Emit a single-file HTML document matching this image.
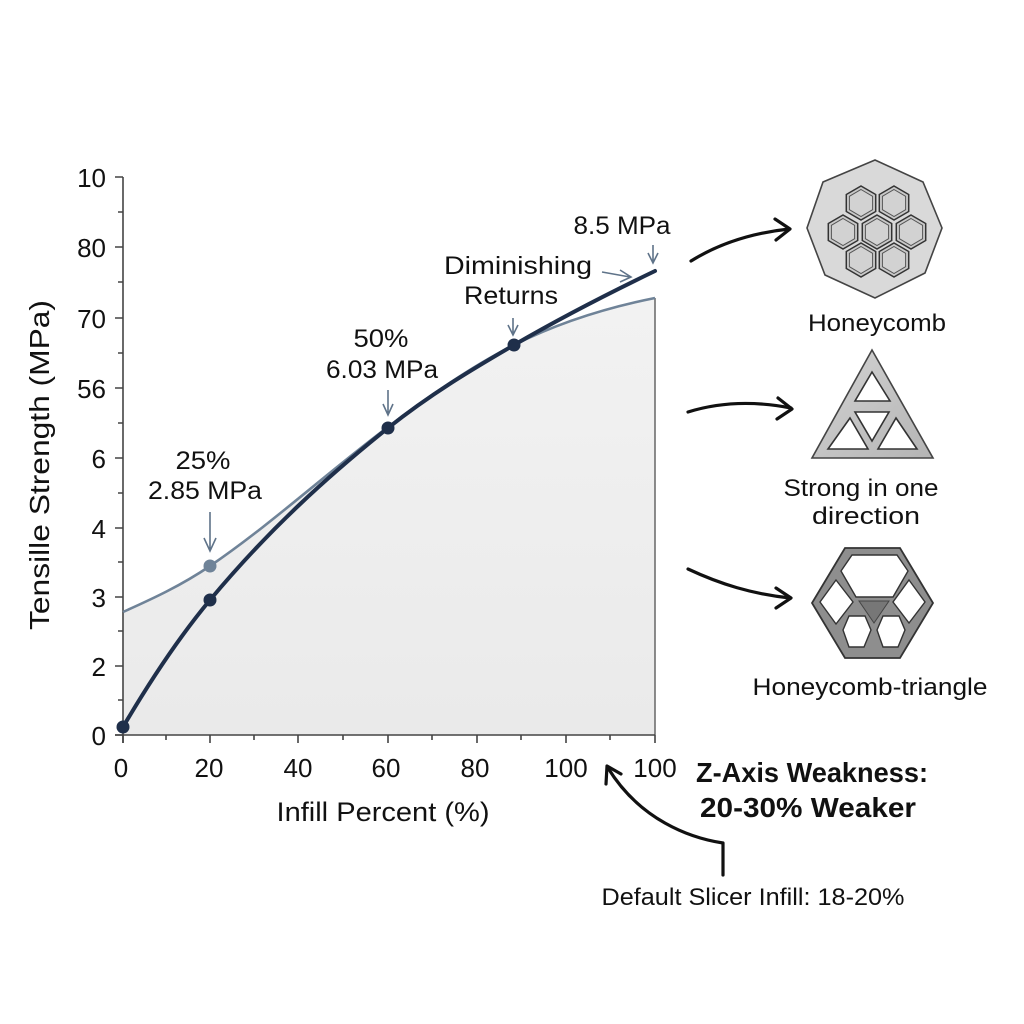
<!DOCTYPE html>
<html><head><meta charset="utf-8"><style>
html,body{margin:0;padding:0;background:#fff;}
svg{display:block;}
text{font-family:"Liberation Sans",sans-serif;fill:#111;}
</style></head><body>
<svg width="1024" height="1024" viewBox="0 0 1024 1024" xmlns="http://www.w3.org/2000/svg">
<defs>
<linearGradient id="fg" x1="0" y1="0" x2="0" y2="1">
<stop offset="0" stop-color="#f2f2f2"/><stop offset="1" stop-color="#eaeaea"/>
</linearGradient>
<linearGradient id="tg" x1="0" y1="0" x2="1" y2="1">
<stop offset="0" stop-color="#d4d4d4"/><stop offset="1" stop-color="#b4b4b4"/>
</linearGradient>
</defs>
<rect width="1024" height="1024" fill="#fff"/>

<!-- fill under light curve -->
<path d="M123,612 C152,599 181,585.7 210,566 C269.3,525.7 328.7,471.5 388,427 C430,395.5 472,366 514,345 C561,321.5 608,307.4 655,298 L655,735 L123,735 Z" fill="url(#fg)"/>
<line x1="655" y1="298" x2="655" y2="735" stroke="#666" stroke-width="1.5"/>

<!-- axes -->
<g stroke="#444" stroke-width="1.6" fill="none">
<line x1="123" y1="177" x2="123" y2="743"/>
<line x1="115" y1="735" x2="655" y2="735"/>
<path d="M115,177H123M115,247H123M115,318H123M115,388H123M115,458H123M115,528H123M115,597H123M115,666H123M115,735H123"/>
<path d="M118,212H123M118,282H123M118,353H123M118,423H123M118,493H123M118,562H123M118,631H123M118,700H123"/>
<path d="M123,735V743M210,735V743M298,735V743M388,735V743M477,735V743M566,735V743M655,735V743"/>
<path d="M166,735V740M254,735V740M343,735V740M432,735V740M521,735V740M610,735V740"/>
</g>

<g font-size="26" text-anchor="end">
<text x="106" y="187">10</text>
<text x="106" y="257">80</text>
<text x="106" y="328">70</text>
<text x="106" y="398">56</text>
<text x="106" y="468">6</text>
<text x="106" y="538">4</text>
<text x="106" y="607">3</text>
<text x="106" y="676">2</text>
<text x="106" y="745">0</text>
</g>
<g font-size="26" text-anchor="middle">
<text x="121" y="777">0</text>
<text x="209" y="777">20</text>
<text x="298" y="777">40</text>
<text x="386" y="777">60</text>
<text x="475" y="777">80</text>
<text x="566" y="777">100</text>
<text x="655" y="777">100</text>
</g>

<text x="383" y="821" font-size="27" text-anchor="middle" textLength="213" lengthAdjust="spacingAndGlyphs">Infill Percent (%)</text>
<text transform="translate(49,465) rotate(-90)" x="0" y="0" font-size="28" text-anchor="middle" textLength="330" lengthAdjust="spacingAndGlyphs">Tensille Strength (MPa)</text>

<path d="M123,612 C152,599 181,585.7 210,566 C269.3,525.7 328.7,471.5 388,427 C430,395.5 472,366 514,345 C561,321.5 608,307.4 655,298" fill="none" stroke="#6f8398" stroke-width="2.6"/>
<path d="M123,727 C152,677.7 181,634.8 210,600 C269.3,528.8 328.7,475.5 388,428 C430,394.4 472,369.4 514,345 C561,317.7 608,293.6 655,271" fill="none" stroke="#1f2f4a" stroke-width="4" stroke-linecap="round"/>

<circle cx="210" cy="566" r="6.5" fill="#6f8398"/>
<g fill="#1f2f4a">
<circle cx="123" cy="727" r="6.5"/>
<circle cx="210" cy="600" r="6.5"/>
<circle cx="388" cy="428" r="6.5"/>
<circle cx="514" cy="345" r="6.5"/>
</g>

<g stroke="#5f7389" stroke-width="1.6" fill="none">
<path d="M210,512V550M204,538L210,551L216,538"/>
<path d="M388,390V414M383,404L388,415L393,404"/>
<path d="M513,318V334M508,325L513,335L518,325"/>
<path d="M653,245V262M648,253L653,263L658,253"/>
<path d="M602,272L630,277M620,270L631,277L620,282"/>
</g>

<g font-size="25" text-anchor="middle">
<text x="203" y="469" textLength="55" lengthAdjust="spacingAndGlyphs">25%</text>
<text x="205" y="499" textLength="114" lengthAdjust="spacingAndGlyphs">2.85 MPa</text>
<text x="381" y="347" textLength="55" lengthAdjust="spacingAndGlyphs">50%</text>
<text x="382" y="378" textLength="112" lengthAdjust="spacingAndGlyphs">6.03 MPa</text>
<text x="518" y="274" textLength="148" lengthAdjust="spacingAndGlyphs">Diminishing</text>
<text x="511" y="304" textLength="94" lengthAdjust="spacingAndGlyphs">Returns</text>
<text x="622" y="234" textLength="97" lengthAdjust="spacingAndGlyphs">8.5 MPa</text>
</g>

<g stroke="#111" stroke-width="3.2" fill="none" stroke-linecap="round" stroke-linejoin="round">
<path d="M691,261 C720,243 752,233 789,229"/>
<path d="M775,219L790,229L776,240"/>
<path d="M688,412 C720,402 755,401 791,408"/>
<path d="M778,398L792,409L777,419"/>
<path d="M688,569 C720,584 752,594 790,598"/>
<path d="M776,588L791,598L776,608"/>
<path d="M723,875V843 C690,838 640,820 608,768"/>
<path d="M606,784L607,766L621,774"/>
</g>

<!-- Honeycomb icon -->
<polygon points="875,160 923,182 942,228 925,273 875,298 825,275 807,228 823,182" fill="#d9d9d9" stroke="#444" stroke-width="1.6"/>
<g stroke="#333" stroke-width="1.5" fill="#c9c9c9">
<polygon points="861,186 875.7,194.5 875.7,211.5 861,220 846.3,211.5 846.3,194.5"/>
<polygon points="894,186 908.7,194.5 908.7,211.5 894,220 879.3,211.5 879.3,194.5"/>
<polygon points="843,215 857.7,223.5 857.7,240.5 843,249 828.3,240.5 828.3,223.5"/>
<polygon points="877,215 891.7,223.5 891.7,240.5 877,249 862.3,240.5 862.3,223.5"/>
<polygon points="911,215 925.7,223.5 925.7,240.5 911,249 896.3,240.5 896.3,223.5"/>
<polygon points="861,243 875.7,251.5 875.7,268.5 861,277 846.3,268.5 846.3,251.5"/>
<polygon points="894,243 908.7,251.5 908.7,268.5 894,277 879.3,268.5 879.3,251.5"/>
</g>
<g stroke="#555" stroke-width="1" fill="#d2d2d2">
<polygon points="861,189.5 872.6,196.3 872.6,209.7 861,216.5 849.4,209.7 849.4,196.3"/>
<polygon points="894,189.5 905.6,196.3 905.6,209.7 894,216.5 882.4,209.7 882.4,196.3"/>
<polygon points="843,218.5 854.6,225.3 854.6,238.7 843,245.5 831.4,238.7 831.4,225.3"/>
<polygon points="877,218.5 888.6,225.3 888.6,238.7 877,245.5 865.4,238.7 865.4,225.3"/>
<polygon points="911,218.5 922.6,225.3 922.6,238.7 911,245.5 899.4,238.7 899.4,225.3"/>
<polygon points="861,246.5 872.6,253.3 872.6,266.7 861,273.5 849.4,266.7 849.4,253.3"/>
<polygon points="894,246.5 905.6,253.3 905.6,266.7 894,273.5 882.4,266.7 882.4,253.3"/>
</g>
<text x="877" y="331" font-size="24" text-anchor="middle" textLength="138" lengthAdjust="spacingAndGlyphs">Honeycomb</text>

<!-- Triangle icon -->
<polygon points="872,350 933,458 812,458" fill="url(#tg)" stroke="#444" stroke-width="1.6"/>
<g fill="#fff" stroke="#333" stroke-width="1.6">
<polygon points="872,372 890,401 855,401"/>
<polygon points="855,412 889,412 872,441"/>
<polygon points="850,418 868,449 828,449"/>
<polygon points="896,418 917,449 878,449"/>
</g>
<text x="861" y="496" font-size="24" text-anchor="middle" textLength="155" lengthAdjust="spacingAndGlyphs">Strong in one</text>
<text x="866" y="524" font-size="24" text-anchor="middle" textLength="108" lengthAdjust="spacingAndGlyphs">direction</text>

<!-- Honeycomb-triangle icon -->
<polygon points="845,548 900,548 933,603 900,658 845,658 812,603" fill="#8e8e8e" stroke="#333" stroke-width="1.8"/>
<g fill="#fff" stroke="#333" stroke-width="1.4">
<polygon points="852,555 897,555 908,571 893,597 856,597 841,571"/>
<polygon points="836,580 853,602 836,624 820,602"/>
<polygon points="909,580 925,602 909,623 893,602"/>
<polygon points="849,616 865,616 871,630 864,647 849,647 843,630"/>
<polygon points="883,616 899,616 905,630 898,647 883,647 877,630"/>
</g>
<polygon points="859,601 889,601 874,623" fill="#777" stroke="#444" stroke-width="1"/>
<text x="870" y="695" font-size="24" text-anchor="middle" textLength="235" lengthAdjust="spacingAndGlyphs">Honeycomb-triangle</text>

<text x="812" y="782" font-size="28" font-weight="bold" text-anchor="middle" textLength="232" lengthAdjust="spacingAndGlyphs">Z-Axis Weakness:</text>
<text x="808" y="817" font-size="28" font-weight="bold" text-anchor="middle" textLength="216" lengthAdjust="spacingAndGlyphs">20-30% Weaker</text>

<text x="753" y="905" font-size="24" text-anchor="middle" textLength="303" lengthAdjust="spacingAndGlyphs">Default Slicer Infill: 18-20%</text>
</svg>
</body></html>
